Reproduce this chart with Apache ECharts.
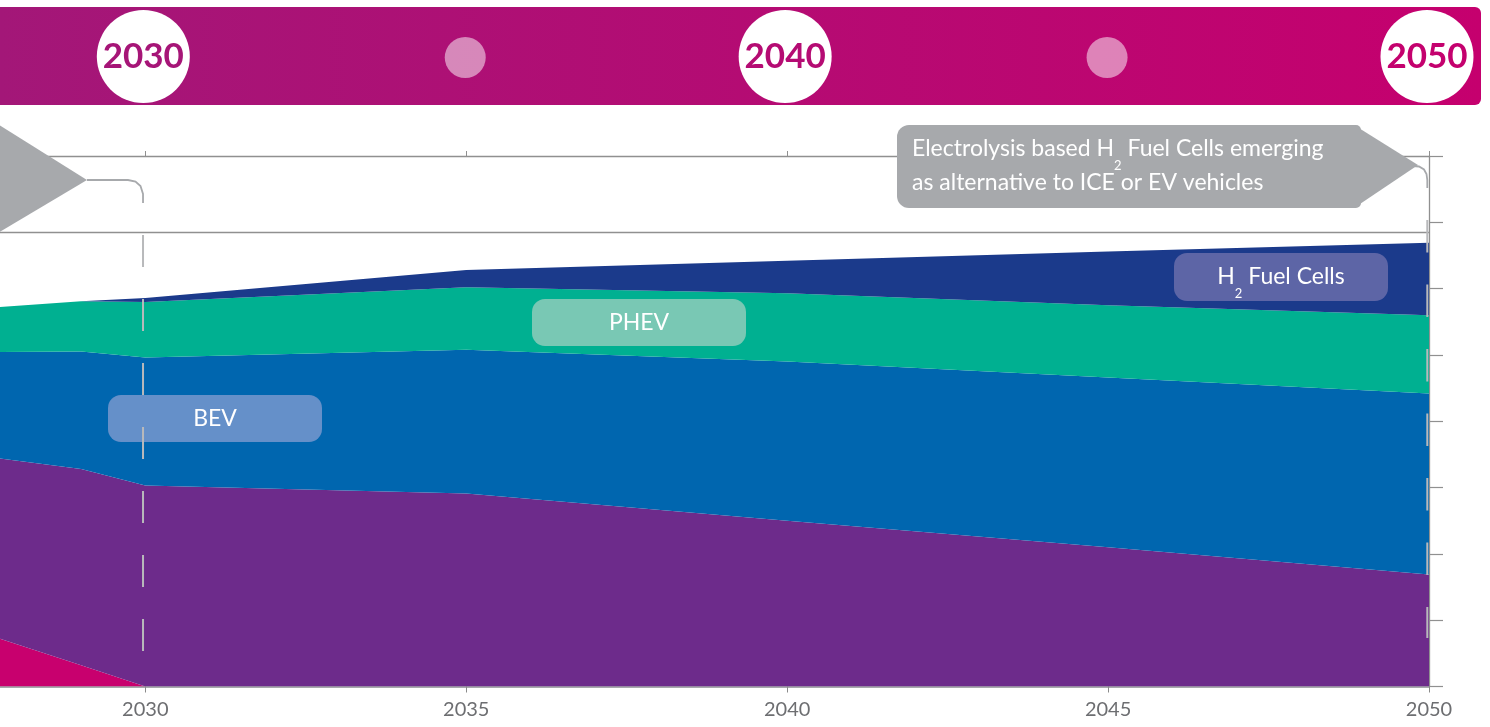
<!DOCTYPE html>
<html>
<head>
<meta charset="utf-8">
<script src="https://cdn.jsdelivr.net/npm/echarts@6/dist/echarts.min.js"></script>
<style>
html,body{margin:0;padding:0;background:#fff;overflow:hidden}
#c{width:1490px;height:727px}
</style>
</head>
<body>
<div id="c"></div>
<script>
// ---- data ----
const years = [2027, 2029, 2030, 2035, 2040, 2045, 2050];
const dieselValues = [9.5, 3.2, 0, 0, 0, 0, 0];
const iceValues = [25.8, 29.6, 30.3, 29.1, 25.0, 21.0, 16.9];
const bevValues = [15.1, 17.7, 19.3, 21.7, 24.0, 25.6, 27.3];
const phevValues = [6.3, 7.6, 8.4, 9.4, 10.3, 10.9, 11.8];
const h2Values = [0, 0, 0.6, 2.6, 4.9, 8.1, 10.9];
const seriesNames = ['Diesel', 'ICE', 'BEV', 'PHEV', 'H2 Fuel Cells'];
const milestoneYears = [2030, 2040, 2050];
const minorMilestoneYears = [2035, 2045];
const referenceLevel = 68.5;
const calloutLine1 = ['Electrolysis based H', '2', ' Fuel Cells emerging'];
const calloutLine2 = 'as alternative to ICE or EV vehicles';

const FONT = 'Lato, "Open Sans", sans-serif';
const colors = ['#C8006E', '#6D2B8B', '#0066AF', '#00B091', '#1B3A8B'];

function areaSeries(name, values, color, extra) {
  return Object.assign({
    name: name,
    type: 'line',
    stack: 'total',
    // value first so that stacking happens on the y dimension
    data: years.map((y, i) => [values[i], y]),
    encode: { x: 1, y: 0 },
    symbol: 'none',
    showSymbol: false,
    lineStyle: { width: 0 },
    areaStyle: { color: color, opacity: 1 },
    itemStyle: { color: color },
    silent: true,
    z: 2
  }, extra || {});
}

const chart = echarts.init(document.getElementById('c'), null, { renderer: 'canvas' });

chart.setOption({
  animation: false,
  backgroundColor: '#ffffff',
  grid: { left: -175.6, right: 61, top: 156, bottom: 40.5, containLabel: false, outerBoundsMode: 'none' },
  xAxis: [
    {
      type: 'value', min: 2025, max: 2050, interval: 5, position: 'bottom',
      axisLine: { show: true, lineStyle: { color: '#a7a9ac', width: 2 } },
      axisTick: { show: true, length: 6, lineStyle: { color: '#8a8a8a', width: 1 } },
      axisLabel: { show: true, color: '#6d6e71', fontFamily: FONT, fontSize: 20, margin: 13, formatter: v => String(v) },
      splitLine: { show: false }
    },
    {
      type: 'value', min: 2025, max: 2050, interval: 5, position: 'top',
      axisLine: { show: true, lineStyle: { color: '#909090', width: 1.3 } },
      axisTick: { show: true, length: 5, lineStyle: { color: '#909090', width: 1 } },
      axisLabel: { show: false },
      splitLine: { show: false }
    }
  ],
  yAxis: {
    type: 'value', min: 0, max: 80, interval: 10, position: 'right',
    axisLine: { show: true, lineStyle: { color: '#909090', width: 1.3 } },
    axisTick: { show: true, length: 14, lineStyle: { color: '#909090', width: 1.2 } },
    axisLabel: { show: false },
    splitLine: { show: false }
  },
  series: [
    areaSeries(seriesNames[0], dieselValues, colors[0]),
    areaSeries(seriesNames[1], iceValues, colors[1]),
    areaSeries(seriesNames[2], bevValues, colors[2]),
    areaSeries(seriesNames[3], phevValues, colors[3]),
    areaSeries(seriesNames[4], h2Values, colors[4], {
      markLine: {
        silent: true, symbol: ['none', 'none'], label: { show: false },
        lineStyle: { color: '#909090', width: 1.3, type: 'solid' },
        data: [{ yAxis: referenceLevel }]
      }
    })
  ]
});

function px(x, y) { return chart.convertToPixel({ xAxisIndex: 0, yAxisIndex: 0 }, [x, y]); }

// banner gradient colour sampling
const bannerLeft = [163, 23, 120], bannerRight = [197, 0, 110];
function bannerColor(x) {
  const t = Math.max(0, Math.min(1, x / 1481));
  const c = bannerLeft.map((v, i) => Math.round(v + (bannerRight[i] - v) * t));
  return 'rgb(' + c.join(',') + ')';
}

const G = [];
// top banner
G.push({
  type: 'rect', z: 100,
  shape: { x: 0, y: 7, width: 1481, height: 98, r: [0, 6, 6, 0] },
  style: { fill: { type: 'linear', x: 0, y: 0, x2: 1, y2: 0,
    colorStops: [{ offset: 0, color: 'rgb(163,23,120)' }, { offset: 1, color: 'rgb(197,0,110)' }] } }
});
milestoneYears.forEach(yr => {
  const cx = px(yr, 0)[0] - 2;
  G.push({ type: 'circle', z: 101, shape: { cx: cx, cy: 56.5, r: 46.5 }, style: { fill: '#ffffff' } });
  G.push({ type: 'text', z: 102, style: {
    text: String(yr), x: cx, y: 57, align: 'center', verticalAlign: 'middle',
    fontFamily: FONT, fontWeight: 'bold', fontSize: 35, fill: bannerColor(cx) } });
});
minorMilestoneYears.forEach(yr => {
  const cx = px(yr, 0)[0] - 1;
  G.push({ type: 'circle', z: 101, shape: { cx: cx, cy: 57.5, r: 20.5 }, style: { fill: 'rgba(255,255,255,0.5)' } });
});

// left callout (cut off at the page edge)
G.push({ type: 'polygon', z: 100, shape: { points: [[-30, 123], [-4, 123], [87, 180], [-4, 234], [-30, 234]] }, style: { fill: '#a7a9ac' } });
// right callout
G.push({ type: 'rect', z: 100, shape: { x: 897, y: 125, width: 464, height: 83, r: [12, 5, 5, 12] }, style: { fill: '#a7a9ac' } });
G.push({ type: 'polygon', z: 100, shape: { points: [[1354, 125], [1418, 165], [1354, 208]] }, style: { fill: '#a7a9ac' } });
G.push({ type: 'text', z: 102, style: {
  text: '{a|' + calloutLine1[0] + '}{s|' + calloutLine1[1] + '}{a|' + calloutLine1[2] + '}',
  x: 912, y: 149, align: 'left', verticalAlign: 'middle',
  rich: {
    a: { fontFamily: FONT, fontSize: 23, fill: '#fff', color: '#fff', lineHeight: 46 },
    s: { fontFamily: FONT, fontSize: 13, fill: '#fff', color: '#fff', verticalAlign: 'bottom' }
  } } });
G.push({ type: 'text', z: 102, style: {
  text: calloutLine2, x: 912, y: 183, align: 'left', verticalAlign: 'middle',
  fontFamily: FONT, fontSize: 23, fill: '#fff' } });

// connectors + dashed guide lines
const x2030 = px(2030, 0)[0] - 2.3;
const x2050 = px(2050, 0)[0] - 1.7;
G.push({ type: 'polyline', z: 103, shape: { points: [[87, 180], [128, 180], [135.5, 181.5], [140.5, 186], [x2030, 194], [x2030, 203]] },
  style: { stroke: '#a7a9ac', lineWidth: 1.8, fill: null } });
G.push({ type: 'polyline', z: 103, shape: { points: [[1413, 166], [1419, 166.5], [1424, 169.5], [1426.5, 174], [x2050, 180], [x2050, 188]] },
  style: { stroke: '#a7a9ac', lineWidth: 1.8, fill: null } });
G.push({ type: 'line', z: 103, shape: { x1: x2030, y1: 235, x2: x2030, y2: 651 },
  style: { stroke: '#b8b9bb', lineWidth: 2, lineDash: [32, 32] } });
G.push({ type: 'line', z: 103, shape: { x1: x2050, y1: 220, x2: x2050, y2: 638 },
  style: { stroke: '#b8b9bb', lineWidth: 2, lineDash: [32.5, 32] } });

// series label boxes
function labelBox(x, y, w, h, fill, textStyle) {
  G.push({ type: 'rect', z: 101, shape: { x: x, y: y, width: w, height: h, r: 13 }, style: { fill: fill } });
  G.push({ type: 'text', z: 102, style: Object.assign({ x: x + w / 2, y: y + h / 2, align: 'center', verticalAlign: 'middle',
    fontFamily: FONT, fontSize: 23, fill: '#fff' }, textStyle) });
}
labelBox(108, 395, 214, 47, '#6590C9', { text: 'BEV' });
labelBox(532, 299, 214, 47, '#79C8B4', { text: 'PHEV' });
labelBox(1174, 253, 214, 48, '#5D65A6', {
  text: '{a|H}{s|2}{a| Fuel Cells}',
  rich: {
    a: { fontFamily: FONT, fontSize: 23, fill: '#fff', color: '#fff', lineHeight: 46 },
    s: { fontFamily: FONT, fontSize: 13, fill: '#fff', color: '#fff', verticalAlign: 'bottom' }
  }
});

chart.setOption({ graphic: { elements: G } });
</script>
</body>
</html>
